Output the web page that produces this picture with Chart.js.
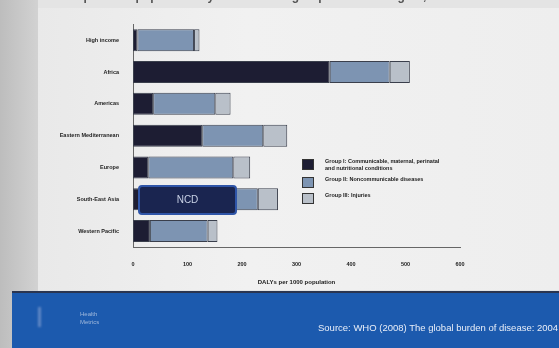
<!DOCTYPE html>
<html><head><meta charset="utf-8">
<script src="https://cdn.jsdelivr.net/npm/chart.js@4/dist/chart.umd.min.js"></script>
<style>
html,body{margin:0;padding:0;width:559px;height:348px;overflow:hidden;background:#e4e4e4;font-family:"Liberation Sans",Arial,sans-serif;}
#left{position:absolute;left:0;top:0;width:38px;height:348px;background:linear-gradient(90deg,#bdbdbd,#d2d2d2);}
#panel{position:absolute;left:38px;top:8px;width:521px;height:282px;background:linear-gradient(90deg,#e9e9e9,#f1f1f1 40%,#eeeeee);}
#title{position:absolute;left:42px;top:-11px;font-size:12px;font-weight:bold;color:#555;white-space:nowrap;filter:blur(0.6px);}
#wrap{position:absolute;left:40px;top:15px;width:440px;height:275px;}
#footer{position:absolute;left:12px;top:291px;width:547px;height:57px;background:#1c5aae;border-top:2px solid #2a3550;overflow:hidden;}
#src{position:absolute;left:306px;top:29px;font-size:9.5px;color:#e8eef8;white-space:nowrap;filter:blur(0.3px);}
#logo{position:absolute;left:68px;top:17px;font-size:6px;line-height:8px;color:#9fb8dc;filter:blur(0.4px);}
#logobar{position:absolute;left:26px;top:14px;width:3px;height:20px;background:#5f86c4;filter:blur(1px);}
#legend{position:absolute;left:300px;top:158px;font-size:5.5px;font-weight:bold;color:#1a1a1a;line-height:7px;}
.li{position:absolute;left:0;padding-left:25px;width:125px;}
.sw{position:absolute;left:2px;top:1px;width:10px;height:9px;border:1px solid #333;}
#ncd{position:absolute;left:138px;top:185px;width:99px;height:30px;background:#1a2550;border:2px solid #2f55a8;border-radius:4px;box-sizing:border-box;color:#c9d2e6;font-size:10px;line-height:26px;text-align:center;}
</style></head><body>
<div id="left"></div>
<div id="panel"></div>
<div id="title">DALYs per 1000 population by broad cause group and WHO region, 2004</div>
<div id="wrap"><canvas id="c"></canvas></div>
<div id="legend"></div>
<div id="ncd">NCD</div>
<div id="footer"><div id="logobar"></div><div id="logo">Health<br>Metrics</div><div id="src">Source: WHO (2008) The global burden of disease: 2004 update</div></div>
<script>
const categories = ["High income","Africa","Americas","Eastern Mediterranean","Europe","South-East Asia","Western Pacific"];
const groupI = [8, 361, 37, 127, 28, 117, 31];
const groupII = [104, 110, 114, 112, 156, 112, 106];
const groupIII = [10, 37, 28, 44, 31, 37, 18];
const seriesLabels = ["Group I: Communicable, maternal, perinatal and nutritional conditions","Group II: Noncommunicable diseases","Group III: Injuries"];
const xTicks = [0,100,200,300,400,500,600];
const colors = ["#1d1d33","#7d94b2","#b9c0c9"];

const data = {
  labels: categories,
  datasets: [groupI, groupII, groupIII].map((d,i)=>({
    label: seriesLabels[i], data: d, backgroundColor: colors[i],
    borderColor: "#3a3f4c", borderWidth: 1, borderSkipped: false,
    categoryPercentage: 0.9, barPercentage: 0.77
  }))
};
new Chart(document.getElementById('c'), {
  type: 'bar',
  data,
  options: {
    indexAxis: 'y', responsive: true, maintainAspectRatio: false, animation: false,
    layout: {padding: {top: 7, right: 20, left: 0, bottom: 0}},
    plugins: {legend: {display: false}, tooltip: {enabled: false}},
    scales: {
      x: {
        stacked: true, min: 0, max: 600,
        afterBuildTicks: s => { s.ticks = xTicks.map(v=>({value:v})); },
        grid: {display: false, drawTicks: true},
        border: {display: true, color: '#666'},
        ticks: {font: {size: 5.5, weight: 'bold'}, color: '#222', padding: 6},
        title: {display: true, text: 'DALYs per 1000 population', font: {size: 6, weight: 'bold'}, color: '#1a1a1a', padding: {top: 2}},
        afterFit: s => { s.height = 43; }
      },
      y: {
        stacked: true,
        grid: {display: false},
        border: {display: true, color: '#666'},
        ticks: {font: {size: 5.5, weight: 'bold'}, color: '#222', padding: 6},
        afterFit: s => { s.width = 93; }
      }
    }
  }
});
const lg = document.getElementById('legend');
const tops = [0, 18, 34];
seriesLabels.forEach((t,i)=>{
  const d = document.createElement('div'); d.className='li';
  d.style.top = tops[i] + 'px';
  d.innerHTML = '<span class="sw" style="background:'+colors[i]+'"></span>'+t;
  lg.appendChild(d);
});
</script>
</body></html>
